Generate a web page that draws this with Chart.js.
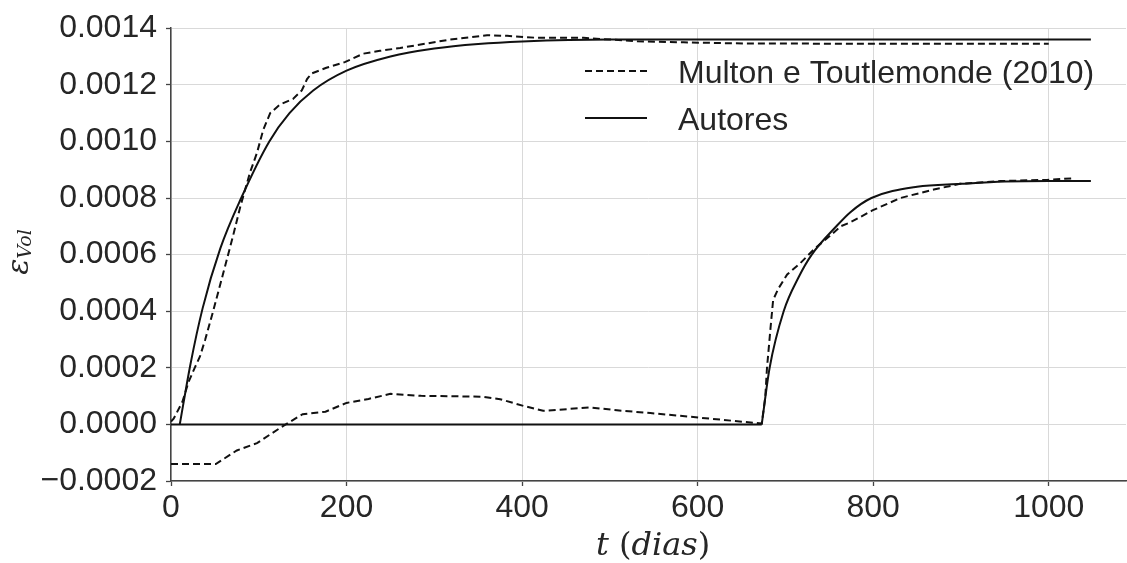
<!DOCTYPE html>
<html lang="pt">
<head>
  <meta charset="UTF-8">
  <title>Deformação volumétrica</title>
  <script src="https://cdn.jsdelivr.net/npm/chart.js"></script>
  <style>
    body {
      margin: 0;
      background: #ffffff;
    }
    canvas {
      display: block;
    }
  </style>
</head>
<body>
  <canvas id="strainChart" width="1127" height="563"></canvas>

  <script>
    // Multon e Toutlemonde (2010), digitized (t in days)
    const multonT1 = [0, 3, 13, 20, 27, 33, 39, 48, 60, 71, 79, 90, 98, 105, 113, 124, 139, 149, 155, 160, 177, 198, 219, 238, 261, 318, 360, 383, 417, 470, 500, 531, 584, 652, 800, 1000];
    const multonV1 = [0.00001, 0.00002, 0.00008, 0.00015, 0.0002, 0.00024, 0.0003, 0.0004, 0.00054, 0.00067, 0.00077, 0.00089, 0.00096, 0.00104, 0.0011, 0.00113, 0.00115, 0.00118, 0.00122, 0.00124, 0.00126, 0.00128, 0.00131, 0.00132, 0.00133, 0.00136, 0.001375, 0.001373, 0.001366, 0.001366, 0.00136, 0.001354, 0.00135, 0.001346, 0.001345, 0.001345];

    const multonT2 = [0, 51, 75, 98, 128, 150, 176, 200, 225, 250, 285, 355, 375, 402, 424, 451, 477, 508, 546, 595, 673, 677, 679, 683, 686, 692, 702, 717, 733, 751, 763, 774, 799, 831, 869, 899, 945, 998, 1030];
    const multonV2 = [-0.00014, -0.00014, -0.000092, -0.000066, -0.000005, 0.000036, 0.000045, 0.000076, 0.00009, 0.000108, 0.000101, 0.000098, 0.000089, 0.000065, 0.000048, 0.000054, 0.00006, 0.00005, 0.00004, 0.000026, 0.000003, 0.000095, 0.0002, 0.00034, 0.00044, 0.00048, 0.00053, 0.00057, 0.00062, 0.000667, 0.0007, 0.000714, 0.000756, 0.0008, 0.00083, 0.00085, 0.00086, 0.000864, 0.00087];

    // Autores
    const autoresT1 = [10, 22, 36, 56, 80, 112, 135, 162, 200, 250, 300, 350, 400, 500, 600, 1048];
    const autoresV1 = [0, 0.00021, 0.00041, 0.00062, 0.0008, 0.001, 0.0011, 0.00118, 0.00125, 0.0013, 0.001328, 0.001344, 0.001353, 0.00136, 0.00136, 0.00136];

    const autoresBaseT = [0, 673];
    const autoresBaseV = [0, 0];

    const autoresT2 = [673, 682, 698, 715, 730, 758, 774, 798, 850, 900, 950, 1000, 1048];
    const autoresV2 = [0, 0.0002, 0.0004, 0.00052, 0.0006, 0.0007, 0.00075, 0.0008, 0.00084, 0.00085, 0.000858, 0.00086, 0.00086];

    const legendLabels = ['Multon e Toutlemonde (2010)', 'Autores'];
    const xTicks = [0, 200, 400, 600, 800, 1000];

    const textColor = '#262626';
    const lineColor = '#111111';
    const dash = [7, 4];

    function points(ts, vs) {
      return ts.map((t, i) => ({ x: t, y: vs[i] }));
    }

    function dashedSet(ts, vs) {
      return {
        data: points(ts, vs),
        borderColor: lineColor,
        borderWidth: 2,
        borderDash: dash,
        pointRadius: 0,
        tension: 0
      };
    }

    function solidSet(ts, vs) {
      return {
        data: points(ts, vs),
        borderColor: lineColor,
        borderWidth: 2,
        pointRadius: 0,
        cubicInterpolationMode: 'monotone'
      };
    }

    // legend, axis titles (math style text)
    const extraText = {
      id: 'extraText',
      afterDraw(chart) {
        const ctx = chart.ctx;
        ctx.save();
        ctx.fillStyle = textColor;

        // legend
        const rows = [71, 118];
        const styles = [dash, []];
        rows.forEach((y, i) => {
          ctx.save();
          ctx.strokeStyle = lineColor;
          ctx.lineWidth = 2;
          ctx.setLineDash(styles[i]);
          ctx.beginPath();
          ctx.moveTo(585, y);
          ctx.lineTo(647, y);
          ctx.stroke();
          ctx.restore();
          ctx.font = '32px "Liberation Sans", Arial, sans-serif';
          ctx.textBaseline = 'alphabetic';
          ctx.textAlign = 'left';
          ctx.fillText(legendLabels[i], 678, y + 11.5);
        });

        // x title: t (dias)
        const parts = [
          ['t', 'italic 32px "DejaVu Serif"'],
          [' (', '32px "DejaVu Serif"'],
          ['dias', 'italic 32px "DejaVu Serif"'],
          [')', '32px "DejaVu Serif"']
        ];
        let total = 0;
        parts.forEach(p => { ctx.font = p[1]; total += ctx.measureText(p[0]).width; });
        let x = 653 - total / 2;
        ctx.textBaseline = 'alphabetic';
        parts.forEach(p => {
          ctx.font = p[1];
          ctx.fillText(p[0], x, 555);
          x += ctx.measureText(p[0]).width;
        });

        // y title: epsilon_Vol
        ctx.translate(28, 252);
        ctx.rotate(-Math.PI / 2);
        ctx.font = 'italic 30px "DejaVu Serif"';
        const wE = ctx.measureText('ε').width;
        ctx.font = 'italic 19px "DejaVu Serif"';
        const wV = ctx.measureText('Vol').width;
        const x0 = -(wE + wV) / 2;
        ctx.font = 'italic 30px "DejaVu Serif"';
        ctx.fillText('ε', x0, 0);
        ctx.font = 'italic 19px "DejaVu Serif"';
        ctx.fillText('Vol', x0 + wE, 3);

        ctx.restore();
      }
    };

    const tickFont = { family: '"Liberation Sans", Arial, sans-serif', size: 32 };

    new Chart(document.getElementById('strainChart'), {
      type: 'line',
      data: {
        datasets: [
          dashedSet(multonT1, multonV1),
          dashedSet(multonT2, multonV2),
          solidSet(autoresT1, autoresV1),
          solidSet(autoresBaseT, autoresBaseV),
          solidSet(autoresT2, autoresV2)
        ]
      },
      options: {
        responsive: false,
        devicePixelRatio: 1,
        animation: false,
        layout: { padding: { top: 28, right: 1, left: 0, bottom: 0 } },
        plugins: {
          legend: { display: false },
          tooltip: { enabled: false }
        },
        scales: {
          x: {
            type: 'linear',
            min: 0,
            max: 1088,
            afterFit: s => { s.height = 82; },
            afterBuildTicks: s => { s.ticks = xTicks.map(v => ({ value: v })); },
            ticks: {
              font: tickFont,
              color: textColor,
              padding: 3,
              maxRotation: 0,
              autoSkip: false,
              includeBounds: false,
              callback: v => String(v)
            },
            grid: {
              color: '#d9d9d9',
              lineWidth: 1,
              tickLength: 5,
              tickColor: '#444444',
              tickWidth: 1.3
            },
            border: { color: '#444444', width: 1.5 }
          },
          y: {
            type: 'linear',
            min: -0.0002,
            max: 0.0014,
            afterFit: s => { s.width = 171; },
            ticks: {
              stepSize: 0.0002,
              font: tickFont,
              color: textColor,
              padding: 9,
              callback: v => Math.abs(v) < 1e-10 ? '0.0000' : v.toFixed(4).replace('-', '\u2212')
            },
            grid: {
              color: '#d9d9d9',
              lineWidth: 1,
              tickLength: 5,
              tickColor: '#444444',
              tickWidth: 1.3
            },
            border: { color: '#444444', width: 1.5 }
          }
        }
      },
      plugins: [extraText]
    });
  </script>
</body>
</html>
